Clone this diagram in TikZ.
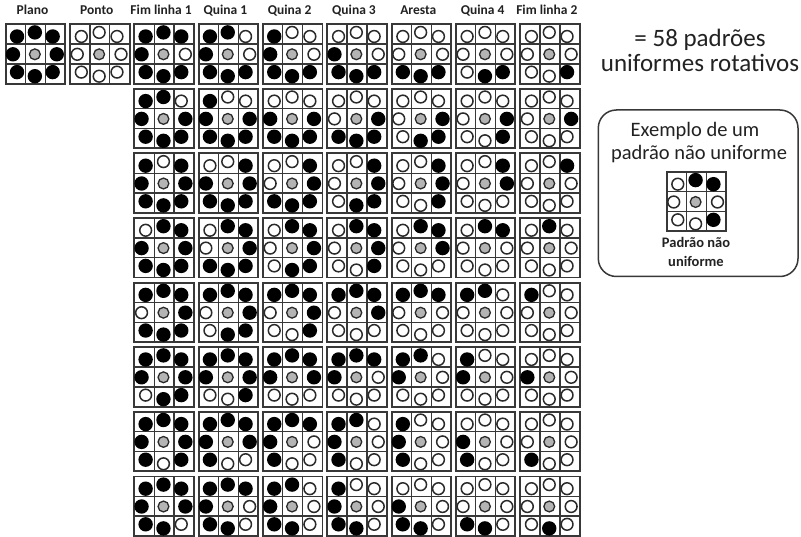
\documentclass[tikz,border=0pt]{standalone}
\usepackage{fontspec}
\setmainfont{Carlito}
\definecolor{gridc}{HTML}{383838}
\definecolor{circc}{HTML}{2A2A2A}
\definecolor{centc}{HTML}{B4B4B4}
\definecolor{txtc}{HTML}{222222}
\tikzset{
  gridbox/.style={draw=gridc, line width=1.9pt, minimum size=59.5pt, inner sep=0pt, outer sep=0pt},
  innerline/.style={draw=gridc, line width=1.3pt},
  blk/.style={fill=black},
  wht/.style={fill=white, draw=circc, line width=1.5pt},
  ctr/.style={fill=centc, draw=circc, line width=1.3pt},
  hdr/.style={text=txtc, font=\bfseries\fontsize{13.5}{15}\selectfont, anchor=base, inner sep=0pt},
  bigtxt/.style={text=txtc, font=\fontsize{25}{25}\selectfont, anchor=base, inner sep=0pt},
  boxtxt/.style={text=txtc, font=\fontsize{20.5}{22}\selectfont, anchor=base, inner sep=0pt},
  captxt/.style={text=txtc, font=\bfseries\fontsize{14.5}{16}\selectfont, anchor=base, inner sep=0pt},
}
% #1 name, #2 cx, #3 cy, #4 pgfmath expression in \k (1 = black neighbour)
\newcommand\lbp[4]{%
  \begin{scope}[shift={(#2,#3)}]
    \draw[innerline] (-9.92,-29.75) -- (-9.92,29.75) (9.92,-29.75) -- (9.92,29.75)
      (-29.75,-9.92) -- (29.75,-9.92) (-29.75,9.92) -- (29.75,9.92);
    \node[gridbox] (#1) at (0,0) {};
    \begin{scope}[shift={(-0.7,0.3)}]
    \draw[ctr] (0,0) circle (5.4pt);
    \foreach \k in {0,...,7}{%
      \pgfmathtruncatemacro\isb{#4}%
      \pgfmathsetmacro\dd{mod(\k,2)==1 ? 25.2 : 21.9}%
      \ifnum\isb=1 \fill[blk] ({\k*45}:\dd) circle (7.2pt);\else \draw[wht] ({\k*45}:\dd) circle (5.9pt);\fi
    }
    \end{scope}
  \end{scope}}
\begin{document}
\begin{tikzpicture}[x=1pt,y=-1pt]
\useasboundingbox (0,0) rectangle (801,537);
\fill[white] (0,0) rectangle (801,537);
% headers
\foreach \j/\t in {0/Plano,1/Ponto,2/Fim linha 1,3/Quina 1,4/Quina 2,5/Quina 3,6/Aresta,7/Quina 4,8/Fim linha 2}{
  \pgfmathsetmacro\hx{32.5+64.3*\j}
  \node[hdr] (h\j) at (\hx,15) {\t};
}
% row 1: plano and ponto
\lbp{plano}{35.55}{54}{1}
\lbp{ponto}{99.85}{54}{0}
% uniform rotations
\foreach \r in {0,...,7}{
  \foreach \j/\n in {2/7,3/6,4/5,5/4,6/3,7/2,8/1}{
    \pgfmathsetmacro\cx{35.55+64.3*\j}
    \pgfmathsetmacro\cy{54+64.6*\r}
    \pgfmathtruncatemacro\s{mod(17-\r,8)}
    \lbp{p-\r-\j}{\cx}{\cy}{mod(\k-\s+16,8)<\n}
  }
}
% right side text
\node[bigtxt] (t1) at (700,47) {= 58 padrões};
\node[bigtxt] (t2) at (700,71.5) {uniformes rotativos};
% example box
\draw[draw=gridc, line width=1.5pt, rounded corners=18pt] (598.3,110) rectangle (798,276.5);
\node[boxtxt] (b1) at (695,136.5) {Exemplo de um};
\node[boxtxt] (b2) at (699,159.3) {padrão não uniforme};
\lbp{nonuni}{696.3}{201.7}{(\k==1)||(\k==6)||(\k==7)}
\node[captxt] (c1) at (696,247.7) {Padrão não};
\node[captxt] (c2) at (696,266.5) {uniforme};
\end{tikzpicture}
\end{document}
